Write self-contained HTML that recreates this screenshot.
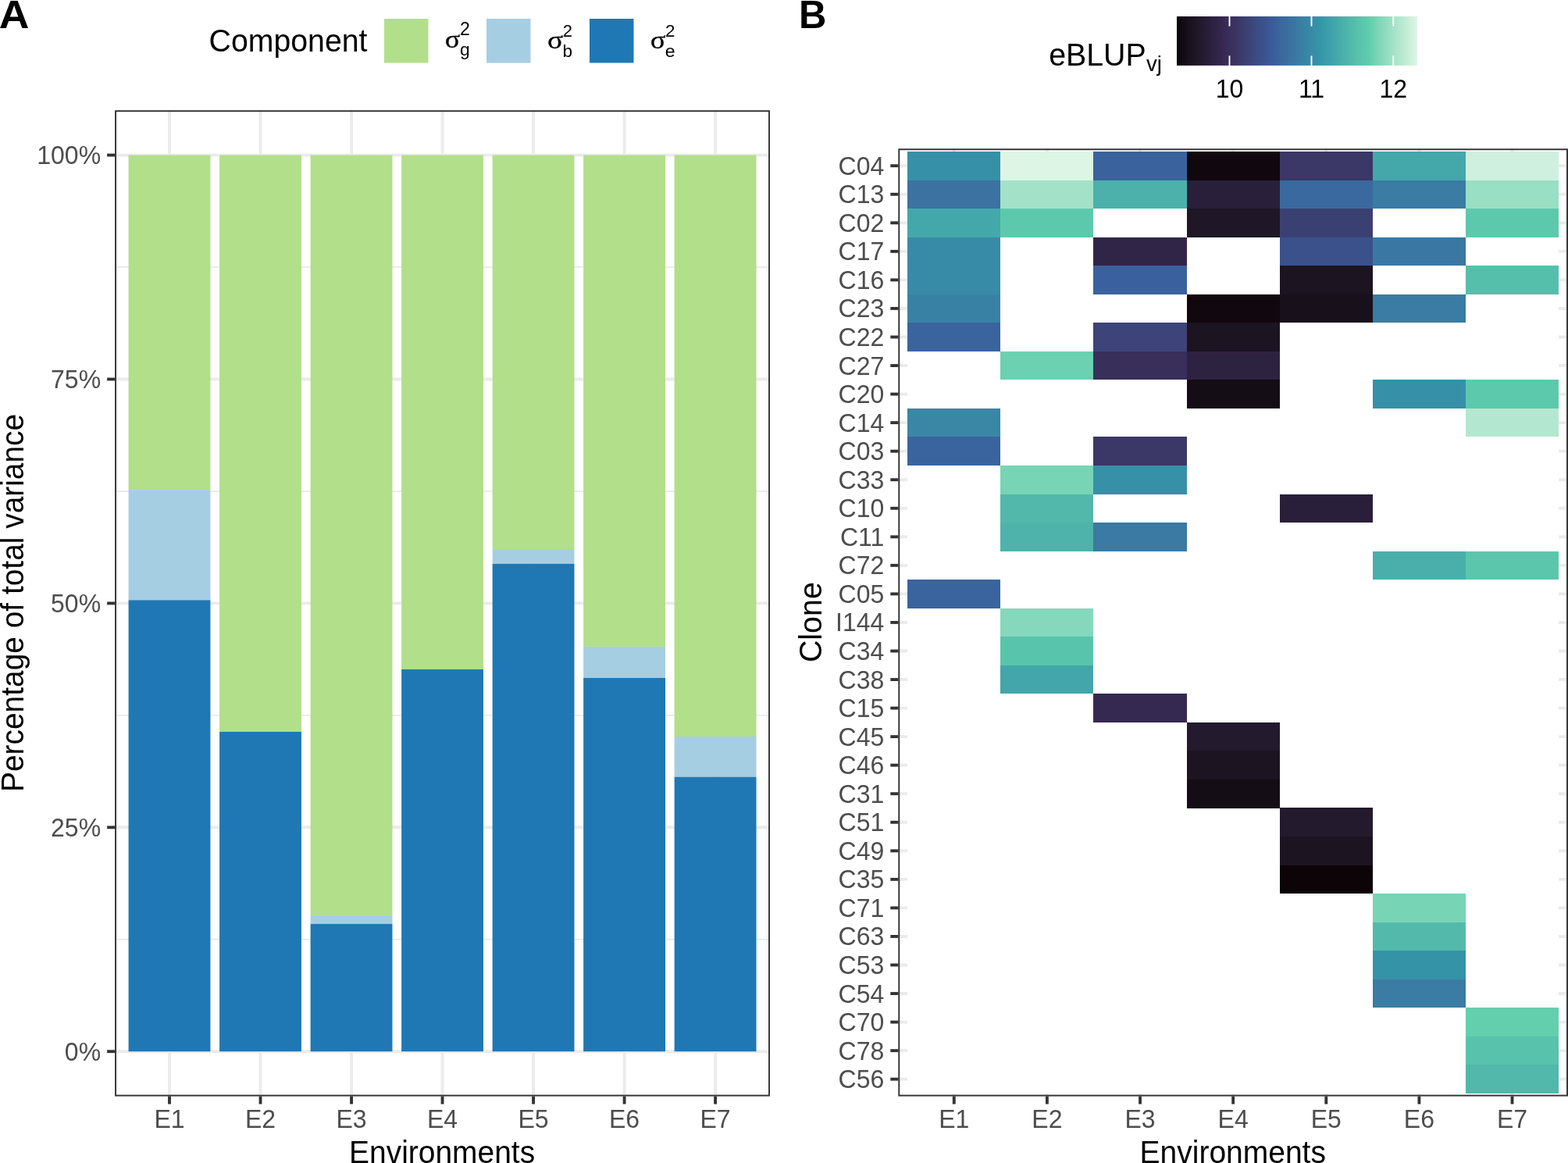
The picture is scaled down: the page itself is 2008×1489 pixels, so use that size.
<!DOCTYPE html>
<html><head><meta charset="utf-8"><title>Variance components and eBLUP heatmap</title>
<style>html,body{margin:0;padding:0;background:#fff;} body{width:2008px;height:1489px;overflow:hidden;} svg{display:block;}</style>
</head><body>
<svg width="2008" height="1489" viewBox="0 0 2008 1489"><rect x="147.1" y="141.2" width="838.90" height="1262.40" fill="#fff"/>
<line x1="147.1" x2="986.0" y1="1202.75" y2="1202.75" stroke="#EBEBEB" stroke-width="1.94"/>
<line x1="147.1" x2="986.0" y1="915.85" y2="915.85" stroke="#EBEBEB" stroke-width="1.94"/>
<line x1="147.1" x2="986.0" y1="628.95" y2="628.95" stroke="#EBEBEB" stroke-width="1.94"/>
<line x1="147.1" x2="986.0" y1="342.05" y2="342.05" stroke="#EBEBEB" stroke-width="1.94"/>
<line x1="147.1" x2="986.0" y1="1346.20" y2="1346.20" stroke="#EBEBEB" stroke-width="3.88"/>
<line x1="147.1" x2="986.0" y1="1059.30" y2="1059.30" stroke="#EBEBEB" stroke-width="3.88"/>
<line x1="147.1" x2="986.0" y1="772.40" y2="772.40" stroke="#EBEBEB" stroke-width="3.88"/>
<line x1="147.1" x2="986.0" y1="485.50" y2="485.50" stroke="#EBEBEB" stroke-width="3.88"/>
<line x1="147.1" x2="986.0" y1="198.60" y2="198.60" stroke="#EBEBEB" stroke-width="3.88"/>
<line x1="217.01" x2="217.01" y1="141.2" y2="1403.6" stroke="#EBEBEB" stroke-width="3.88"/>
<line x1="333.52" x2="333.52" y1="141.2" y2="1403.6" stroke="#EBEBEB" stroke-width="3.88"/>
<line x1="450.04" x2="450.04" y1="141.2" y2="1403.6" stroke="#EBEBEB" stroke-width="3.88"/>
<line x1="566.55" x2="566.55" y1="141.2" y2="1403.6" stroke="#EBEBEB" stroke-width="3.88"/>
<line x1="683.06" x2="683.06" y1="141.2" y2="1403.6" stroke="#EBEBEB" stroke-width="3.88"/>
<line x1="799.58" x2="799.58" y1="141.2" y2="1403.6" stroke="#EBEBEB" stroke-width="3.88"/>
<line x1="916.09" x2="916.09" y1="141.2" y2="1403.6" stroke="#EBEBEB" stroke-width="3.88"/>
<rect x="164.58" y="198.6" width="104.86" height="428.50" fill="#B2DF8A"/>
<rect x="164.58" y="627.1" width="104.86" height="141.20" fill="#A6CEE3"/>
<rect x="164.58" y="768.3" width="104.86" height="577.90" fill="#1F78B4"/>
<rect x="281.09" y="198.6" width="104.86" height="738.30" fill="#B2DF8A"/>
<rect x="281.09" y="936.9" width="104.86" height="409.30" fill="#1F78B4"/>
<rect x="397.60" y="198.6" width="104.86" height="973.30" fill="#B2DF8A"/>
<rect x="397.60" y="1171.9" width="104.86" height="11.00" fill="#A6CEE3"/>
<rect x="397.60" y="1182.9" width="104.86" height="163.30" fill="#1F78B4"/>
<rect x="514.12" y="198.6" width="104.86" height="658.40" fill="#B2DF8A"/>
<rect x="514.12" y="857.0" width="104.86" height="489.20" fill="#1F78B4"/>
<rect x="630.63" y="198.6" width="104.86" height="504.40" fill="#B2DF8A"/>
<rect x="630.63" y="703.0" width="104.86" height="18.80" fill="#A6CEE3"/>
<rect x="630.63" y="721.8" width="104.86" height="624.40" fill="#1F78B4"/>
<rect x="747.15" y="198.6" width="104.86" height="629.30" fill="#B2DF8A"/>
<rect x="747.15" y="827.9" width="104.86" height="40.10" fill="#A6CEE3"/>
<rect x="747.15" y="868.0" width="104.86" height="478.20" fill="#1F78B4"/>
<rect x="863.66" y="198.6" width="104.86" height="744.40" fill="#B2DF8A"/>
<rect x="863.66" y="943.0" width="104.86" height="51.70" fill="#A6CEE3"/>
<rect x="863.66" y="994.7" width="104.86" height="351.50" fill="#1F78B4"/>
<rect x="148.07" y="142.17" width="836.96" height="1260.46" fill="none" stroke="#333333" stroke-width="1.94"/>
<line x1="137.1" x2="147.1" y1="1346.20" y2="1346.20" stroke="#333333" stroke-width="3.88"/>
<line x1="137.1" x2="147.1" y1="1059.30" y2="1059.30" stroke="#333333" stroke-width="3.88"/>
<line x1="137.1" x2="147.1" y1="772.40" y2="772.40" stroke="#333333" stroke-width="3.88"/>
<line x1="137.1" x2="147.1" y1="485.50" y2="485.50" stroke="#333333" stroke-width="3.88"/>
<line x1="137.1" x2="147.1" y1="198.60" y2="198.60" stroke="#333333" stroke-width="3.88"/>
<line x1="217.01" x2="217.01" y1="1403.6" y2="1413.6" stroke="#333333" stroke-width="3.88"/>
<line x1="333.52" x2="333.52" y1="1403.6" y2="1413.6" stroke="#333333" stroke-width="3.88"/>
<line x1="450.04" x2="450.04" y1="1403.6" y2="1413.6" stroke="#333333" stroke-width="3.88"/>
<line x1="566.55" x2="566.55" y1="1403.6" y2="1413.6" stroke="#333333" stroke-width="3.88"/>
<line x1="683.06" x2="683.06" y1="1403.6" y2="1413.6" stroke="#333333" stroke-width="3.88"/>
<line x1="799.58" x2="799.58" y1="1403.6" y2="1413.6" stroke="#333333" stroke-width="3.88"/>
<line x1="916.09" x2="916.09" y1="1403.6" y2="1413.6" stroke="#333333" stroke-width="3.88"/>
<text x="129.10" y="1357.60" font-size="33" font-family="'Liberation Sans', Arial, Helvetica, sans-serif" fill="#4D4D4D" text-anchor="end" textLength="46.25" lengthAdjust="spacingAndGlyphs">0%</text>
<text x="129.10" y="1070.70" font-size="33" font-family="'Liberation Sans', Arial, Helvetica, sans-serif" fill="#4D4D4D" text-anchor="end" textLength="64.05" lengthAdjust="spacingAndGlyphs">25%</text>
<text x="129.10" y="783.80" font-size="33" font-family="'Liberation Sans', Arial, Helvetica, sans-serif" fill="#4D4D4D" text-anchor="end" textLength="64.05" lengthAdjust="spacingAndGlyphs">50%</text>
<text x="129.10" y="496.90" font-size="33" font-family="'Liberation Sans', Arial, Helvetica, sans-serif" fill="#4D4D4D" text-anchor="end" textLength="64.05" lengthAdjust="spacingAndGlyphs">75%</text>
<text x="129.10" y="210.00" font-size="33" font-family="'Liberation Sans', Arial, Helvetica, sans-serif" fill="#4D4D4D" text-anchor="end" textLength="81.84" lengthAdjust="spacingAndGlyphs">100%</text>
<text x="217.01" y="1443.60" font-size="33" font-family="'Liberation Sans', Arial, Helvetica, sans-serif" fill="#4D4D4D" text-anchor="middle" textLength="39.14" lengthAdjust="spacingAndGlyphs">E1</text>
<text x="333.52" y="1443.60" font-size="33" font-family="'Liberation Sans', Arial, Helvetica, sans-serif" fill="#4D4D4D" text-anchor="middle" textLength="39.14" lengthAdjust="spacingAndGlyphs">E2</text>
<text x="450.04" y="1443.60" font-size="33" font-family="'Liberation Sans', Arial, Helvetica, sans-serif" fill="#4D4D4D" text-anchor="middle" textLength="39.14" lengthAdjust="spacingAndGlyphs">E3</text>
<text x="566.55" y="1443.60" font-size="33" font-family="'Liberation Sans', Arial, Helvetica, sans-serif" fill="#4D4D4D" text-anchor="middle" textLength="39.14" lengthAdjust="spacingAndGlyphs">E4</text>
<text x="683.06" y="1443.60" font-size="33" font-family="'Liberation Sans', Arial, Helvetica, sans-serif" fill="#4D4D4D" text-anchor="middle" textLength="39.14" lengthAdjust="spacingAndGlyphs">E5</text>
<text x="799.58" y="1443.60" font-size="33" font-family="'Liberation Sans', Arial, Helvetica, sans-serif" fill="#4D4D4D" text-anchor="middle" textLength="39.14" lengthAdjust="spacingAndGlyphs">E6</text>
<text x="916.09" y="1443.60" font-size="33" font-family="'Liberation Sans', Arial, Helvetica, sans-serif" fill="#4D4D4D" text-anchor="middle" textLength="39.14" lengthAdjust="spacingAndGlyphs">E7</text>
<text x="447.11" y="1489.40" font-size="41" font-family="'Liberation Sans', Arial, Helvetica, sans-serif" fill="#000" textLength="238.02" lengthAdjust="spacingAndGlyphs">Environments</text>
<text transform="translate(29.8,1013.98) rotate(-90)" x="0" y="0" font-size="41" font-family="'Liberation Sans', Arial, Helvetica, sans-serif" fill="#000" textLength="484.16" lengthAdjust="spacingAndGlyphs">Percentage of total variance</text>
<text x="-1.32" y="35.90" font-size="50.76" font-family="'Liberation Sans', Arial, Helvetica, sans-serif" font-weight="bold" fill="#000" textLength="38.70" lengthAdjust="spacingAndGlyphs">A</text>
<text x="267.58" y="66.10" font-size="41" font-family="'Liberation Sans', Arial, Helvetica, sans-serif" fill="#000" textLength="202.95" lengthAdjust="spacingAndGlyphs">Component</text>
<rect x="492.0" y="24.0" width="56.5" height="56.5" fill="#B2DF8A"/>
<rect x="623.0" y="24.0" width="56.5" height="56.5" fill="#A6CEE3"/>
<rect x="755.0" y="24.0" width="56.5" height="56.5" fill="#1F78B4"/>
<text x="569.77" y="60.55" font-size="31.58" font-family="'Liberation Serif', 'Times New Roman', serif" fill="#000" textLength="19.49" lengthAdjust="spacingAndGlyphs" stroke="#000" stroke-width="0.3">σ</text>
<text x="588.95" y="44.60" font-size="23.08" font-family="'Liberation Sans', Arial, Helvetica, sans-serif" fill="#000" textLength="12.79" lengthAdjust="spacingAndGlyphs">2</text>
<text x="588.94" y="70.50" font-size="21.61" font-family="'Liberation Sans', Arial, Helvetica, sans-serif" fill="#000" textLength="12.71" lengthAdjust="spacingAndGlyphs">g</text>
<text x="701.08" y="62.35" font-size="30.81" font-family="'Liberation Serif', 'Times New Roman', serif" fill="#000" textLength="20.12" lengthAdjust="spacingAndGlyphs" stroke="#000" stroke-width="0.3">σ</text>
<text x="720.81" y="46.60" font-size="22.22" font-family="'Liberation Sans', Arial, Helvetica, sans-serif" fill="#000" textLength="12.19" lengthAdjust="spacingAndGlyphs">2</text>
<text x="720.45" y="72.55" font-size="21.63" font-family="'Liberation Sans', Arial, Helvetica, sans-serif" fill="#000" textLength="12.53" lengthAdjust="spacingAndGlyphs">b</text>
<text x="832.72" y="62.35" font-size="30.81" font-family="'Liberation Serif', 'Times New Roman', serif" fill="#000" textLength="19.67" lengthAdjust="spacingAndGlyphs" stroke="#000" stroke-width="0.3">σ</text>
<text x="852.00" y="46.60" font-size="22.22" font-family="'Liberation Sans', Arial, Helvetica, sans-serif" fill="#000" textLength="12.44" lengthAdjust="spacingAndGlyphs">2</text>
<text x="851.71" y="72.55" font-size="21.37" font-family="'Liberation Sans', Arial, Helvetica, sans-serif" fill="#000" textLength="12.88" lengthAdjust="spacingAndGlyphs">e</text>
<rect x="1150.3" y="190.3" width="857.70" height="1213.30" fill="#fff"/>
<line x1="1150.3" x2="2008.0" y1="212.23" y2="212.23" stroke="#EBEBEB" stroke-width="3.88"/>
<line x1="1150.3" x2="2008.0" y1="248.77" y2="248.77" stroke="#EBEBEB" stroke-width="3.88"/>
<line x1="1150.3" x2="2008.0" y1="285.32" y2="285.32" stroke="#EBEBEB" stroke-width="3.88"/>
<line x1="1150.3" x2="2008.0" y1="321.86" y2="321.86" stroke="#EBEBEB" stroke-width="3.88"/>
<line x1="1150.3" x2="2008.0" y1="358.41" y2="358.41" stroke="#EBEBEB" stroke-width="3.88"/>
<line x1="1150.3" x2="2008.0" y1="394.95" y2="394.95" stroke="#EBEBEB" stroke-width="3.88"/>
<line x1="1150.3" x2="2008.0" y1="431.50" y2="431.50" stroke="#EBEBEB" stroke-width="3.88"/>
<line x1="1150.3" x2="2008.0" y1="468.04" y2="468.04" stroke="#EBEBEB" stroke-width="3.88"/>
<line x1="1150.3" x2="2008.0" y1="504.59" y2="504.59" stroke="#EBEBEB" stroke-width="3.88"/>
<line x1="1150.3" x2="2008.0" y1="541.13" y2="541.13" stroke="#EBEBEB" stroke-width="3.88"/>
<line x1="1150.3" x2="2008.0" y1="577.68" y2="577.68" stroke="#EBEBEB" stroke-width="3.88"/>
<line x1="1150.3" x2="2008.0" y1="614.22" y2="614.22" stroke="#EBEBEB" stroke-width="3.88"/>
<line x1="1150.3" x2="2008.0" y1="650.77" y2="650.77" stroke="#EBEBEB" stroke-width="3.88"/>
<line x1="1150.3" x2="2008.0" y1="687.31" y2="687.31" stroke="#EBEBEB" stroke-width="3.88"/>
<line x1="1150.3" x2="2008.0" y1="723.86" y2="723.86" stroke="#EBEBEB" stroke-width="3.88"/>
<line x1="1150.3" x2="2008.0" y1="760.40" y2="760.40" stroke="#EBEBEB" stroke-width="3.88"/>
<line x1="1150.3" x2="2008.0" y1="796.95" y2="796.95" stroke="#EBEBEB" stroke-width="3.88"/>
<line x1="1150.3" x2="2008.0" y1="833.50" y2="833.50" stroke="#EBEBEB" stroke-width="3.88"/>
<line x1="1150.3" x2="2008.0" y1="870.04" y2="870.04" stroke="#EBEBEB" stroke-width="3.88"/>
<line x1="1150.3" x2="2008.0" y1="906.59" y2="906.59" stroke="#EBEBEB" stroke-width="3.88"/>
<line x1="1150.3" x2="2008.0" y1="943.13" y2="943.13" stroke="#EBEBEB" stroke-width="3.88"/>
<line x1="1150.3" x2="2008.0" y1="979.68" y2="979.68" stroke="#EBEBEB" stroke-width="3.88"/>
<line x1="1150.3" x2="2008.0" y1="1016.22" y2="1016.22" stroke="#EBEBEB" stroke-width="3.88"/>
<line x1="1150.3" x2="2008.0" y1="1052.77" y2="1052.77" stroke="#EBEBEB" stroke-width="3.88"/>
<line x1="1150.3" x2="2008.0" y1="1089.31" y2="1089.31" stroke="#EBEBEB" stroke-width="3.88"/>
<line x1="1150.3" x2="2008.0" y1="1125.86" y2="1125.86" stroke="#EBEBEB" stroke-width="3.88"/>
<line x1="1150.3" x2="2008.0" y1="1162.40" y2="1162.40" stroke="#EBEBEB" stroke-width="3.88"/>
<line x1="1150.3" x2="2008.0" y1="1198.95" y2="1198.95" stroke="#EBEBEB" stroke-width="3.88"/>
<line x1="1150.3" x2="2008.0" y1="1235.49" y2="1235.49" stroke="#EBEBEB" stroke-width="3.88"/>
<line x1="1150.3" x2="2008.0" y1="1272.04" y2="1272.04" stroke="#EBEBEB" stroke-width="3.88"/>
<line x1="1150.3" x2="2008.0" y1="1308.58" y2="1308.58" stroke="#EBEBEB" stroke-width="3.88"/>
<line x1="1150.3" x2="2008.0" y1="1345.13" y2="1345.13" stroke="#EBEBEB" stroke-width="3.88"/>
<line x1="1150.3" x2="2008.0" y1="1381.67" y2="1381.67" stroke="#EBEBEB" stroke-width="3.88"/>
<line x1="1221.77" x2="1221.77" y1="190.3" y2="1403.6" stroke="#EBEBEB" stroke-width="3.88"/>
<line x1="1340.90" x2="1340.90" y1="190.3" y2="1403.6" stroke="#EBEBEB" stroke-width="3.88"/>
<line x1="1460.03" x2="1460.03" y1="190.3" y2="1403.6" stroke="#EBEBEB" stroke-width="3.88"/>
<line x1="1579.15" x2="1579.15" y1="190.3" y2="1403.6" stroke="#EBEBEB" stroke-width="3.88"/>
<line x1="1698.27" x2="1698.27" y1="190.3" y2="1403.6" stroke="#EBEBEB" stroke-width="3.88"/>
<line x1="1817.40" x2="1817.40" y1="190.3" y2="1403.6" stroke="#EBEBEB" stroke-width="3.88"/>
<line x1="1936.52" x2="1936.52" y1="190.3" y2="1403.6" stroke="#EBEBEB" stroke-width="3.88"/>
<rect x="1162.21" y="193.95" width="833.88" height="1205.99" fill="#fff"/>
<rect x="1162.21" y="193.95" width="119.12" height="36.55" fill="#3690a8" shape-rendering="crispEdges"/>
<rect x="1281.34" y="193.95" width="119.12" height="36.55" fill="#ddf5e5" shape-rendering="crispEdges"/>
<rect x="1400.46" y="193.95" width="119.12" height="36.55" fill="#3a629d" shape-rendering="crispEdges"/>
<rect x="1519.59" y="193.95" width="119.12" height="36.55" fill="#10080e" shape-rendering="crispEdges"/>
<rect x="1638.71" y="193.95" width="119.12" height="36.55" fill="#3b3766" shape-rendering="crispEdges"/>
<rect x="1757.84" y="193.95" width="119.12" height="36.55" fill="#44a8aa" shape-rendering="crispEdges"/>
<rect x="1876.96" y="193.95" width="119.12" height="36.55" fill="#cff0de" shape-rendering="crispEdges"/>
<rect x="1162.21" y="230.50" width="119.12" height="36.55" fill="#3b72a1" shape-rendering="crispEdges"/>
<rect x="1281.34" y="230.50" width="119.12" height="36.55" fill="#a3e2c8" shape-rendering="crispEdges"/>
<rect x="1400.46" y="230.50" width="119.12" height="36.55" fill="#4cb1ab" shape-rendering="crispEdges"/>
<rect x="1519.59" y="230.50" width="119.12" height="36.55" fill="#2a1f3a" shape-rendering="crispEdges"/>
<rect x="1638.71" y="230.50" width="119.12" height="36.55" fill="#3a699f" shape-rendering="crispEdges"/>
<rect x="1757.84" y="230.50" width="119.12" height="36.55" fill="#3a7ca3" shape-rendering="crispEdges"/>
<rect x="1876.96" y="230.50" width="119.12" height="36.55" fill="#99dfc3" shape-rendering="crispEdges"/>
<rect x="1162.21" y="267.04" width="119.12" height="36.55" fill="#44a8aa" shape-rendering="crispEdges"/>
<rect x="1281.34" y="267.04" width="119.12" height="36.55" fill="#5dc9ac" shape-rendering="crispEdges"/>
<rect x="1519.59" y="267.04" width="119.12" height="36.55" fill="#1f1727" shape-rendering="crispEdges"/>
<rect x="1638.71" y="267.04" width="119.12" height="36.55" fill="#3b4072" shape-rendering="crispEdges"/>
<rect x="1876.96" y="267.04" width="119.12" height="36.55" fill="#5dc9ac" shape-rendering="crispEdges"/>
<rect x="1162.21" y="303.59" width="119.12" height="36.55" fill="#388ba6" shape-rendering="crispEdges"/>
<rect x="1400.46" y="303.59" width="119.12" height="36.55" fill="#312547" shape-rendering="crispEdges"/>
<rect x="1638.71" y="303.59" width="119.12" height="36.55" fill="#3b518b" shape-rendering="crispEdges"/>
<rect x="1757.84" y="303.59" width="119.12" height="36.55" fill="#3a77a2" shape-rendering="crispEdges"/>
<rect x="1162.21" y="340.14" width="119.12" height="36.55" fill="#388ba6" shape-rendering="crispEdges"/>
<rect x="1400.46" y="340.14" width="119.12" height="36.55" fill="#3a619d" shape-rendering="crispEdges"/>
<rect x="1638.71" y="340.14" width="119.12" height="36.55" fill="#1c1421" shape-rendering="crispEdges"/>
<rect x="1876.96" y="340.14" width="119.12" height="36.55" fill="#56bfab" shape-rendering="crispEdges"/>
<rect x="1162.21" y="376.68" width="119.12" height="36.55" fill="#3981a4" shape-rendering="crispEdges"/>
<rect x="1519.59" y="376.68" width="119.12" height="36.55" fill="#10080e" shape-rendering="crispEdges"/>
<rect x="1638.71" y="376.68" width="119.12" height="36.55" fill="#18111b" shape-rendering="crispEdges"/>
<rect x="1757.84" y="376.68" width="119.12" height="36.55" fill="#3a7ca3" shape-rendering="crispEdges"/>
<rect x="1162.21" y="413.23" width="119.12" height="36.55" fill="#3a649e" shape-rendering="crispEdges"/>
<rect x="1400.46" y="413.23" width="119.12" height="36.55" fill="#3c4479" shape-rendering="crispEdges"/>
<rect x="1519.59" y="413.23" width="119.12" height="36.55" fill="#1c1421" shape-rendering="crispEdges"/>
<rect x="1281.34" y="449.77" width="119.12" height="36.55" fill="#6bd1b0" shape-rendering="crispEdges"/>
<rect x="1400.46" y="449.77" width="119.12" height="36.55" fill="#392f5b" shape-rendering="crispEdges"/>
<rect x="1519.59" y="449.77" width="119.12" height="36.55" fill="#2e2241" shape-rendering="crispEdges"/>
<rect x="1519.59" y="486.32" width="119.12" height="36.55" fill="#150d15" shape-rendering="crispEdges"/>
<rect x="1757.84" y="486.32" width="119.12" height="36.55" fill="#3690a8" shape-rendering="crispEdges"/>
<rect x="1876.96" y="486.32" width="119.12" height="36.55" fill="#5dc9ac" shape-rendering="crispEdges"/>
<rect x="1162.21" y="522.86" width="119.12" height="36.55" fill="#3986a5" shape-rendering="crispEdges"/>
<rect x="1876.96" y="522.86" width="119.12" height="36.55" fill="#b4e7d0" shape-rendering="crispEdges"/>
<rect x="1162.21" y="559.41" width="119.12" height="36.55" fill="#3a649e" shape-rendering="crispEdges"/>
<rect x="1400.46" y="559.41" width="119.12" height="36.55" fill="#3b3766" shape-rendering="crispEdges"/>
<rect x="1281.34" y="595.95" width="119.12" height="36.55" fill="#77d4b5" shape-rendering="crispEdges"/>
<rect x="1400.46" y="595.95" width="119.12" height="36.55" fill="#3690a8" shape-rendering="crispEdges"/>
<rect x="1281.34" y="632.50" width="119.12" height="36.55" fill="#51b8ab" shape-rendering="crispEdges"/>
<rect x="1638.71" y="632.50" width="119.12" height="36.55" fill="#2a1f3a" shape-rendering="crispEdges"/>
<rect x="1281.34" y="669.04" width="119.12" height="36.55" fill="#4db3ab" shape-rendering="crispEdges"/>
<rect x="1400.46" y="669.04" width="119.12" height="36.55" fill="#3a7aa3" shape-rendering="crispEdges"/>
<rect x="1757.84" y="705.59" width="119.12" height="36.55" fill="#4aafab" shape-rendering="crispEdges"/>
<rect x="1876.96" y="705.59" width="119.12" height="36.55" fill="#5bc6ac" shape-rendering="crispEdges"/>
<rect x="1162.21" y="742.13" width="119.12" height="36.55" fill="#3a649e" shape-rendering="crispEdges"/>
<rect x="1281.34" y="778.68" width="119.12" height="36.55" fill="#85d8bb" shape-rendering="crispEdges"/>
<rect x="1281.34" y="815.22" width="119.12" height="36.55" fill="#59c4ac" shape-rendering="crispEdges"/>
<rect x="1281.34" y="851.77" width="119.12" height="36.55" fill="#43a6aa" shape-rendering="crispEdges"/>
<rect x="1400.46" y="888.31" width="119.12" height="36.55" fill="#362951" shape-rendering="crispEdges"/>
<rect x="1519.59" y="924.86" width="119.12" height="36.55" fill="#231a2d" shape-rendering="crispEdges"/>
<rect x="1519.59" y="961.40" width="119.12" height="36.55" fill="#1c1421" shape-rendering="crispEdges"/>
<rect x="1519.59" y="997.95" width="119.12" height="36.55" fill="#150d15" shape-rendering="crispEdges"/>
<rect x="1638.71" y="1034.49" width="119.12" height="36.55" fill="#231a2d" shape-rendering="crispEdges"/>
<rect x="1638.71" y="1071.04" width="119.12" height="36.55" fill="#1c1421" shape-rendering="crispEdges"/>
<rect x="1638.71" y="1107.58" width="119.12" height="36.55" fill="#0c0406" shape-rendering="crispEdges"/>
<rect x="1757.84" y="1144.13" width="119.12" height="36.55" fill="#77d4b5" shape-rendering="crispEdges"/>
<rect x="1757.84" y="1180.67" width="119.12" height="36.55" fill="#53baab" shape-rendering="crispEdges"/>
<rect x="1757.84" y="1217.22" width="119.12" height="36.55" fill="#3593a8" shape-rendering="crispEdges"/>
<rect x="1757.84" y="1253.76" width="119.12" height="36.55" fill="#3a7ca3" shape-rendering="crispEdges"/>
<rect x="1876.96" y="1290.31" width="119.12" height="36.55" fill="#63cfad" shape-rendering="crispEdges"/>
<rect x="1876.96" y="1326.86" width="119.12" height="36.55" fill="#58c2ac" shape-rendering="crispEdges"/>
<rect x="1876.96" y="1363.40" width="119.12" height="36.55" fill="#51b8ab" shape-rendering="crispEdges"/>
<rect x="1151.27" y="191.27" width="855.76" height="1211.36" fill="none" stroke="#333333" stroke-width="1.94"/>
<line x1="1140.3" x2="1150.3" y1="212.23" y2="212.23" stroke="#333333" stroke-width="3.88"/>
<line x1="1140.3" x2="1150.3" y1="248.77" y2="248.77" stroke="#333333" stroke-width="3.88"/>
<line x1="1140.3" x2="1150.3" y1="285.32" y2="285.32" stroke="#333333" stroke-width="3.88"/>
<line x1="1140.3" x2="1150.3" y1="321.86" y2="321.86" stroke="#333333" stroke-width="3.88"/>
<line x1="1140.3" x2="1150.3" y1="358.41" y2="358.41" stroke="#333333" stroke-width="3.88"/>
<line x1="1140.3" x2="1150.3" y1="394.95" y2="394.95" stroke="#333333" stroke-width="3.88"/>
<line x1="1140.3" x2="1150.3" y1="431.50" y2="431.50" stroke="#333333" stroke-width="3.88"/>
<line x1="1140.3" x2="1150.3" y1="468.04" y2="468.04" stroke="#333333" stroke-width="3.88"/>
<line x1="1140.3" x2="1150.3" y1="504.59" y2="504.59" stroke="#333333" stroke-width="3.88"/>
<line x1="1140.3" x2="1150.3" y1="541.13" y2="541.13" stroke="#333333" stroke-width="3.88"/>
<line x1="1140.3" x2="1150.3" y1="577.68" y2="577.68" stroke="#333333" stroke-width="3.88"/>
<line x1="1140.3" x2="1150.3" y1="614.22" y2="614.22" stroke="#333333" stroke-width="3.88"/>
<line x1="1140.3" x2="1150.3" y1="650.77" y2="650.77" stroke="#333333" stroke-width="3.88"/>
<line x1="1140.3" x2="1150.3" y1="687.31" y2="687.31" stroke="#333333" stroke-width="3.88"/>
<line x1="1140.3" x2="1150.3" y1="723.86" y2="723.86" stroke="#333333" stroke-width="3.88"/>
<line x1="1140.3" x2="1150.3" y1="760.40" y2="760.40" stroke="#333333" stroke-width="3.88"/>
<line x1="1140.3" x2="1150.3" y1="796.95" y2="796.95" stroke="#333333" stroke-width="3.88"/>
<line x1="1140.3" x2="1150.3" y1="833.50" y2="833.50" stroke="#333333" stroke-width="3.88"/>
<line x1="1140.3" x2="1150.3" y1="870.04" y2="870.04" stroke="#333333" stroke-width="3.88"/>
<line x1="1140.3" x2="1150.3" y1="906.59" y2="906.59" stroke="#333333" stroke-width="3.88"/>
<line x1="1140.3" x2="1150.3" y1="943.13" y2="943.13" stroke="#333333" stroke-width="3.88"/>
<line x1="1140.3" x2="1150.3" y1="979.68" y2="979.68" stroke="#333333" stroke-width="3.88"/>
<line x1="1140.3" x2="1150.3" y1="1016.22" y2="1016.22" stroke="#333333" stroke-width="3.88"/>
<line x1="1140.3" x2="1150.3" y1="1052.77" y2="1052.77" stroke="#333333" stroke-width="3.88"/>
<line x1="1140.3" x2="1150.3" y1="1089.31" y2="1089.31" stroke="#333333" stroke-width="3.88"/>
<line x1="1140.3" x2="1150.3" y1="1125.86" y2="1125.86" stroke="#333333" stroke-width="3.88"/>
<line x1="1140.3" x2="1150.3" y1="1162.40" y2="1162.40" stroke="#333333" stroke-width="3.88"/>
<line x1="1140.3" x2="1150.3" y1="1198.95" y2="1198.95" stroke="#333333" stroke-width="3.88"/>
<line x1="1140.3" x2="1150.3" y1="1235.49" y2="1235.49" stroke="#333333" stroke-width="3.88"/>
<line x1="1140.3" x2="1150.3" y1="1272.04" y2="1272.04" stroke="#333333" stroke-width="3.88"/>
<line x1="1140.3" x2="1150.3" y1="1308.58" y2="1308.58" stroke="#333333" stroke-width="3.88"/>
<line x1="1140.3" x2="1150.3" y1="1345.13" y2="1345.13" stroke="#333333" stroke-width="3.88"/>
<line x1="1140.3" x2="1150.3" y1="1381.67" y2="1381.67" stroke="#333333" stroke-width="3.88"/>
<line x1="1221.77" x2="1221.77" y1="1403.6" y2="1413.6" stroke="#333333" stroke-width="3.88"/>
<line x1="1340.90" x2="1340.90" y1="1403.6" y2="1413.6" stroke="#333333" stroke-width="3.88"/>
<line x1="1460.03" x2="1460.03" y1="1403.6" y2="1413.6" stroke="#333333" stroke-width="3.88"/>
<line x1="1579.15" x2="1579.15" y1="1403.6" y2="1413.6" stroke="#333333" stroke-width="3.88"/>
<line x1="1698.27" x2="1698.27" y1="1403.6" y2="1413.6" stroke="#333333" stroke-width="3.88"/>
<line x1="1817.40" x2="1817.40" y1="1403.6" y2="1413.6" stroke="#333333" stroke-width="3.88"/>
<line x1="1936.52" x2="1936.52" y1="1403.6" y2="1413.6" stroke="#333333" stroke-width="3.88"/>
<text x="1132.30" y="223.73" font-size="33" font-family="'Liberation Sans', Arial, Helvetica, sans-serif" fill="#4D4D4D" text-anchor="end" textLength="58.70" lengthAdjust="spacingAndGlyphs">C04</text>
<text x="1132.30" y="260.27" font-size="33" font-family="'Liberation Sans', Arial, Helvetica, sans-serif" fill="#4D4D4D" text-anchor="end" textLength="58.70" lengthAdjust="spacingAndGlyphs">C13</text>
<text x="1132.30" y="296.82" font-size="33" font-family="'Liberation Sans', Arial, Helvetica, sans-serif" fill="#4D4D4D" text-anchor="end" textLength="58.70" lengthAdjust="spacingAndGlyphs">C02</text>
<text x="1132.30" y="333.36" font-size="33" font-family="'Liberation Sans', Arial, Helvetica, sans-serif" fill="#4D4D4D" text-anchor="end" textLength="58.70" lengthAdjust="spacingAndGlyphs">C17</text>
<text x="1132.30" y="369.91" font-size="33" font-family="'Liberation Sans', Arial, Helvetica, sans-serif" fill="#4D4D4D" text-anchor="end" textLength="58.70" lengthAdjust="spacingAndGlyphs">C16</text>
<text x="1132.30" y="406.45" font-size="33" font-family="'Liberation Sans', Arial, Helvetica, sans-serif" fill="#4D4D4D" text-anchor="end" textLength="58.70" lengthAdjust="spacingAndGlyphs">C23</text>
<text x="1132.30" y="443.00" font-size="33" font-family="'Liberation Sans', Arial, Helvetica, sans-serif" fill="#4D4D4D" text-anchor="end" textLength="58.70" lengthAdjust="spacingAndGlyphs">C22</text>
<text x="1132.30" y="479.54" font-size="33" font-family="'Liberation Sans', Arial, Helvetica, sans-serif" fill="#4D4D4D" text-anchor="end" textLength="58.70" lengthAdjust="spacingAndGlyphs">C27</text>
<text x="1132.30" y="516.09" font-size="33" font-family="'Liberation Sans', Arial, Helvetica, sans-serif" fill="#4D4D4D" text-anchor="end" textLength="58.70" lengthAdjust="spacingAndGlyphs">C20</text>
<text x="1132.30" y="552.63" font-size="33" font-family="'Liberation Sans', Arial, Helvetica, sans-serif" fill="#4D4D4D" text-anchor="end" textLength="58.70" lengthAdjust="spacingAndGlyphs">C14</text>
<text x="1132.30" y="589.18" font-size="33" font-family="'Liberation Sans', Arial, Helvetica, sans-serif" fill="#4D4D4D" text-anchor="end" textLength="58.70" lengthAdjust="spacingAndGlyphs">C03</text>
<text x="1132.30" y="625.72" font-size="33" font-family="'Liberation Sans', Arial, Helvetica, sans-serif" fill="#4D4D4D" text-anchor="end" textLength="58.70" lengthAdjust="spacingAndGlyphs">C33</text>
<text x="1132.30" y="662.27" font-size="33" font-family="'Liberation Sans', Arial, Helvetica, sans-serif" fill="#4D4D4D" text-anchor="end" textLength="58.70" lengthAdjust="spacingAndGlyphs">C10</text>
<text x="1132.30" y="698.81" font-size="33" font-family="'Liberation Sans', Arial, Helvetica, sans-serif" fill="#4D4D4D" text-anchor="end" textLength="56.33" lengthAdjust="spacingAndGlyphs">C11</text>
<text x="1132.30" y="735.36" font-size="33" font-family="'Liberation Sans', Arial, Helvetica, sans-serif" fill="#4D4D4D" text-anchor="end" textLength="58.70" lengthAdjust="spacingAndGlyphs">C72</text>
<text x="1132.30" y="771.90" font-size="33" font-family="'Liberation Sans', Arial, Helvetica, sans-serif" fill="#4D4D4D" text-anchor="end" textLength="58.70" lengthAdjust="spacingAndGlyphs">C05</text>
<text x="1132.30" y="808.45" font-size="33" font-family="'Liberation Sans', Arial, Helvetica, sans-serif" fill="#4D4D4D" text-anchor="end" textLength="62.28" lengthAdjust="spacingAndGlyphs">I144</text>
<text x="1132.30" y="845.00" font-size="33" font-family="'Liberation Sans', Arial, Helvetica, sans-serif" fill="#4D4D4D" text-anchor="end" textLength="58.70" lengthAdjust="spacingAndGlyphs">C34</text>
<text x="1132.30" y="881.54" font-size="33" font-family="'Liberation Sans', Arial, Helvetica, sans-serif" fill="#4D4D4D" text-anchor="end" textLength="58.70" lengthAdjust="spacingAndGlyphs">C38</text>
<text x="1132.30" y="918.09" font-size="33" font-family="'Liberation Sans', Arial, Helvetica, sans-serif" fill="#4D4D4D" text-anchor="end" textLength="58.70" lengthAdjust="spacingAndGlyphs">C15</text>
<text x="1132.30" y="954.63" font-size="33" font-family="'Liberation Sans', Arial, Helvetica, sans-serif" fill="#4D4D4D" text-anchor="end" textLength="58.70" lengthAdjust="spacingAndGlyphs">C45</text>
<text x="1132.30" y="991.18" font-size="33" font-family="'Liberation Sans', Arial, Helvetica, sans-serif" fill="#4D4D4D" text-anchor="end" textLength="58.70" lengthAdjust="spacingAndGlyphs">C46</text>
<text x="1132.30" y="1027.72" font-size="33" font-family="'Liberation Sans', Arial, Helvetica, sans-serif" fill="#4D4D4D" text-anchor="end" textLength="58.70" lengthAdjust="spacingAndGlyphs">C31</text>
<text x="1132.30" y="1064.27" font-size="33" font-family="'Liberation Sans', Arial, Helvetica, sans-serif" fill="#4D4D4D" text-anchor="end" textLength="58.70" lengthAdjust="spacingAndGlyphs">C51</text>
<text x="1132.30" y="1100.81" font-size="33" font-family="'Liberation Sans', Arial, Helvetica, sans-serif" fill="#4D4D4D" text-anchor="end" textLength="58.70" lengthAdjust="spacingAndGlyphs">C49</text>
<text x="1132.30" y="1137.36" font-size="33" font-family="'Liberation Sans', Arial, Helvetica, sans-serif" fill="#4D4D4D" text-anchor="end" textLength="58.70" lengthAdjust="spacingAndGlyphs">C35</text>
<text x="1132.30" y="1173.90" font-size="33" font-family="'Liberation Sans', Arial, Helvetica, sans-serif" fill="#4D4D4D" text-anchor="end" textLength="58.70" lengthAdjust="spacingAndGlyphs">C71</text>
<text x="1132.30" y="1210.45" font-size="33" font-family="'Liberation Sans', Arial, Helvetica, sans-serif" fill="#4D4D4D" text-anchor="end" textLength="58.70" lengthAdjust="spacingAndGlyphs">C63</text>
<text x="1132.30" y="1246.99" font-size="33" font-family="'Liberation Sans', Arial, Helvetica, sans-serif" fill="#4D4D4D" text-anchor="end" textLength="58.70" lengthAdjust="spacingAndGlyphs">C53</text>
<text x="1132.30" y="1283.54" font-size="33" font-family="'Liberation Sans', Arial, Helvetica, sans-serif" fill="#4D4D4D" text-anchor="end" textLength="58.70" lengthAdjust="spacingAndGlyphs">C54</text>
<text x="1132.30" y="1320.08" font-size="33" font-family="'Liberation Sans', Arial, Helvetica, sans-serif" fill="#4D4D4D" text-anchor="end" textLength="58.70" lengthAdjust="spacingAndGlyphs">C70</text>
<text x="1132.30" y="1356.63" font-size="33" font-family="'Liberation Sans', Arial, Helvetica, sans-serif" fill="#4D4D4D" text-anchor="end" textLength="58.70" lengthAdjust="spacingAndGlyphs">C78</text>
<text x="1132.30" y="1393.17" font-size="33" font-family="'Liberation Sans', Arial, Helvetica, sans-serif" fill="#4D4D4D" text-anchor="end" textLength="58.70" lengthAdjust="spacingAndGlyphs">C56</text>
<text x="1221.77" y="1443.60" font-size="33" font-family="'Liberation Sans', Arial, Helvetica, sans-serif" fill="#4D4D4D" text-anchor="middle" textLength="39.14" lengthAdjust="spacingAndGlyphs">E1</text>
<text x="1340.90" y="1443.60" font-size="33" font-family="'Liberation Sans', Arial, Helvetica, sans-serif" fill="#4D4D4D" text-anchor="middle" textLength="39.14" lengthAdjust="spacingAndGlyphs">E2</text>
<text x="1460.03" y="1443.60" font-size="33" font-family="'Liberation Sans', Arial, Helvetica, sans-serif" fill="#4D4D4D" text-anchor="middle" textLength="39.14" lengthAdjust="spacingAndGlyphs">E3</text>
<text x="1579.15" y="1443.60" font-size="33" font-family="'Liberation Sans', Arial, Helvetica, sans-serif" fill="#4D4D4D" text-anchor="middle" textLength="39.14" lengthAdjust="spacingAndGlyphs">E4</text>
<text x="1698.27" y="1443.60" font-size="33" font-family="'Liberation Sans', Arial, Helvetica, sans-serif" fill="#4D4D4D" text-anchor="middle" textLength="39.14" lengthAdjust="spacingAndGlyphs">E5</text>
<text x="1817.40" y="1443.60" font-size="33" font-family="'Liberation Sans', Arial, Helvetica, sans-serif" fill="#4D4D4D" text-anchor="middle" textLength="39.14" lengthAdjust="spacingAndGlyphs">E6</text>
<text x="1936.52" y="1443.60" font-size="33" font-family="'Liberation Sans', Arial, Helvetica, sans-serif" fill="#4D4D4D" text-anchor="middle" textLength="39.14" lengthAdjust="spacingAndGlyphs">E7</text>
<text x="1459.61" y="1489.40" font-size="41" font-family="'Liberation Sans', Arial, Helvetica, sans-serif" fill="#000" textLength="238.33" lengthAdjust="spacingAndGlyphs">Environments</text>
<text transform="translate(1052.4,848.12) rotate(-90)" x="0" y="0" font-size="41" font-family="'Liberation Sans', Arial, Helvetica, sans-serif" fill="#000" textLength="102.92" lengthAdjust="spacingAndGlyphs">Clone</text>
<text x="1022.94" y="35.90" font-size="50.47" font-family="'Liberation Sans', Arial, Helvetica, sans-serif" font-weight="bold" fill="#000" textLength="35.41" lengthAdjust="spacingAndGlyphs">B</text>
<defs><linearGradient id="cb" x1="0" x2="1" y1="0" y2="0"><stop offset="0.0000" stop-color="#0b0405"/><stop offset="0.0167" stop-color="#11090f"/><stop offset="0.0333" stop-color="#150e16"/><stop offset="0.0500" stop-color="#19111c"/><stop offset="0.0667" stop-color="#1c1421"/><stop offset="0.0833" stop-color="#1f1727"/><stop offset="0.1000" stop-color="#231a2d"/><stop offset="0.1167" stop-color="#261c34"/><stop offset="0.1333" stop-color="#2a1f3a"/><stop offset="0.1500" stop-color="#2d2240"/><stop offset="0.1667" stop-color="#312447"/><stop offset="0.1833" stop-color="#34274d"/><stop offset="0.2000" stop-color="#382a54"/><stop offset="0.2167" stop-color="#392e5a"/><stop offset="0.2333" stop-color="#3a325f"/><stop offset="0.2500" stop-color="#3a3665"/><stop offset="0.2667" stop-color="#3b3b6b"/><stop offset="0.2833" stop-color="#3b3f71"/><stop offset="0.3000" stop-color="#3c4377"/><stop offset="0.3167" stop-color="#3c477d"/><stop offset="0.3333" stop-color="#3c4c83"/><stop offset="0.3500" stop-color="#3b5089"/><stop offset="0.3667" stop-color="#3b548f"/><stop offset="0.3833" stop-color="#3a5996"/><stop offset="0.4000" stop-color="#395d9c"/><stop offset="0.4167" stop-color="#3a629d"/><stop offset="0.4333" stop-color="#3a679e"/><stop offset="0.4500" stop-color="#3a6b9f"/><stop offset="0.4667" stop-color="#3b70a1"/><stop offset="0.4833" stop-color="#3a75a2"/><stop offset="0.5000" stop-color="#3a7aa3"/><stop offset="0.5167" stop-color="#3a7fa4"/><stop offset="0.5333" stop-color="#3983a5"/><stop offset="0.5500" stop-color="#3888a6"/><stop offset="0.5667" stop-color="#378da7"/><stop offset="0.5833" stop-color="#3692a8"/><stop offset="0.6000" stop-color="#3497a9"/><stop offset="0.6167" stop-color="#399ba9"/><stop offset="0.6333" stop-color="#3da0aa"/><stop offset="0.6500" stop-color="#41a4aa"/><stop offset="0.6667" stop-color="#45a9aa"/><stop offset="0.6833" stop-color="#49adab"/><stop offset="0.7000" stop-color="#4db2ab"/><stop offset="0.7167" stop-color="#50b7ab"/><stop offset="0.7333" stop-color="#54bbab"/><stop offset="0.7500" stop-color="#57c0ac"/><stop offset="0.7667" stop-color="#5ac5ac"/><stop offset="0.7833" stop-color="#5dc9ac"/><stop offset="0.8000" stop-color="#60ceac"/><stop offset="0.8167" stop-color="#6dd1b1"/><stop offset="0.8333" stop-color="#79d5b5"/><stop offset="0.8500" stop-color="#84d8ba"/><stop offset="0.8667" stop-color="#8fdbbf"/><stop offset="0.8833" stop-color="#99dfc3"/><stop offset="0.9000" stop-color="#a3e2c8"/><stop offset="0.9167" stop-color="#aee5cd"/><stop offset="0.9333" stop-color="#b7e8d2"/><stop offset="0.9500" stop-color="#c1ecd6"/><stop offset="0.9667" stop-color="#cbefdb"/><stop offset="0.9833" stop-color="#d4f2e0"/><stop offset="1.0000" stop-color="#def5e5"/></linearGradient></defs>
<rect x="1507.0" y="21.0" width="308.0" height="62.90" fill="url(#cb)"/>
<line x1="1574.5" x2="1574.5" y1="21.0" y2="33.60" stroke="#fff" stroke-width="1.9"/>
<line x1="1574.5" x2="1574.5" y1="71.30" y2="83.9" stroke="#fff" stroke-width="1.9"/>
<text x="1574.50" y="125.00" font-size="33" font-family="'Liberation Sans', Arial, Helvetica, sans-serif" fill="#000" text-anchor="middle" textLength="35.59" lengthAdjust="spacingAndGlyphs">10</text>
<line x1="1679.5" x2="1679.5" y1="21.0" y2="33.60" stroke="#fff" stroke-width="1.9"/>
<line x1="1679.5" x2="1679.5" y1="71.30" y2="83.9" stroke="#fff" stroke-width="1.9"/>
<text x="1679.50" y="125.00" font-size="33" font-family="'Liberation Sans', Arial, Helvetica, sans-serif" fill="#000" text-anchor="middle" textLength="33.22" lengthAdjust="spacingAndGlyphs">11</text>
<line x1="1784.3" x2="1784.3" y1="21.0" y2="33.60" stroke="#fff" stroke-width="1.9"/>
<line x1="1784.3" x2="1784.3" y1="71.30" y2="83.9" stroke="#fff" stroke-width="1.9"/>
<text x="1784.30" y="125.00" font-size="33" font-family="'Liberation Sans', Arial, Helvetica, sans-serif" fill="#000" text-anchor="middle" textLength="35.59" lengthAdjust="spacingAndGlyphs">12</text>
<text x="1343.21" y="84.10" font-size="40.72" font-family="'Liberation Sans', Arial, Helvetica, sans-serif" fill="#000" textLength="124.43" lengthAdjust="spacingAndGlyphs">eBLUP</text>
<text x="1468.10" y="91.40" font-size="28.42" font-family="'Liberation Sans', Arial, Helvetica, sans-serif" fill="#000" textLength="19.87" lengthAdjust="spacingAndGlyphs">vj</text></svg>
</body></html>
